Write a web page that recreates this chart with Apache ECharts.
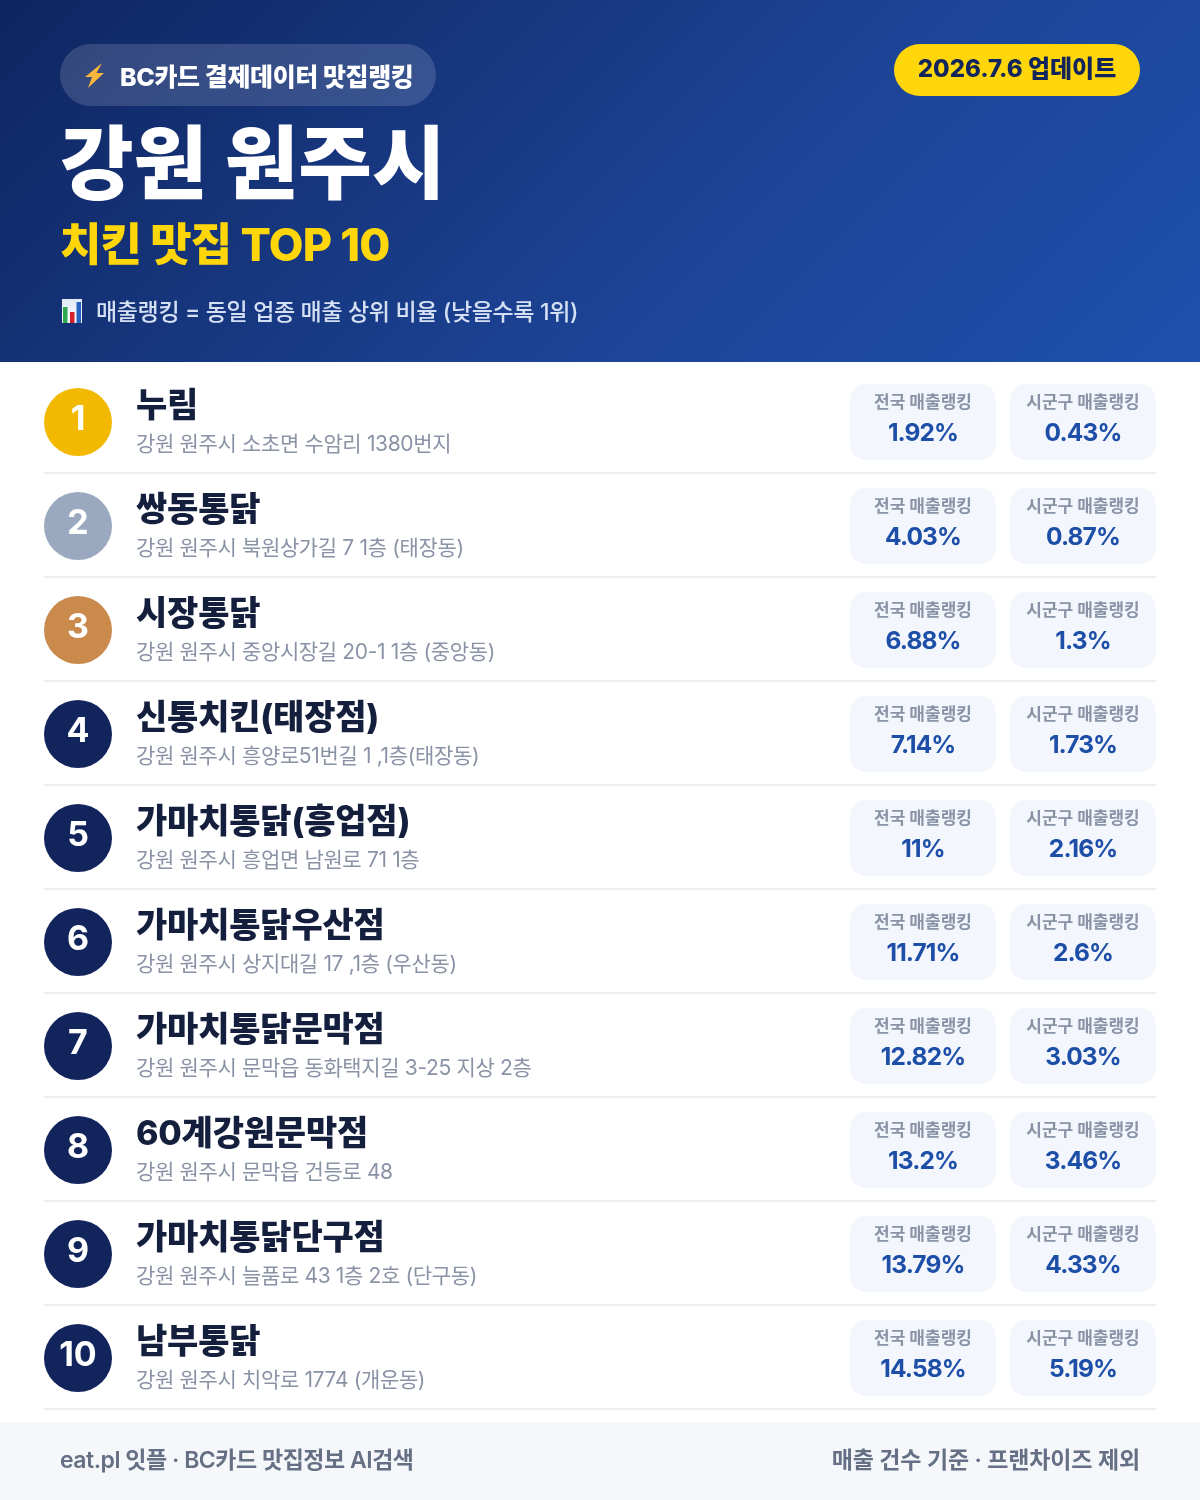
<!DOCTYPE html>
<html><head><meta charset="utf-8">
<style>html,body{margin:0;padding:0;background:#fff}#c{width:1200px;height:1500px}</style>
<script src="https://cdn.jsdelivr.net/npm/echarts@6/dist/echarts.min.js"></script>
</head><body><div id="c"></div>
<script>
const ranks = ['1','2','3','4','5','6','7','8','9','10'];
const names = ['누림','쌍동통닭','시장통닭','신통치킨(태장점)','가마치통닭(흥업점)','가마치통닭우산점','가마치통닭문막점','60계강원문막점','가마치통닭단구점','남부통닭'];
const addresses = ['강원 원주시 소초면 수암리 1380번지','강원 원주시 북원상가길 7 1층 (태장동)','강원 원주시 중앙시장길 20-1 1층 (중앙동)','강원 원주시 흥양로51번길 1 ,1층(태장동)','강원 원주시 흥업면 남원로 71 1층','강원 원주시 상지대길 17 ,1층 (우산동)','강원 원주시 문막읍 동화택지길 3-25 지상 2층','강원 원주시 문막읍 건등로 48','강원 원주시 늘품로 43 1층 2호 (단구동)','강원 원주시 치악로 1774 (개운동)'];
const nationalPct = [1.92,4.03,6.88,7.14,11,11.71,12.82,13.2,13.79,14.58];
const localPct = [0.43,0.87,1.3,1.73,2.16,2.6,3.03,3.46,4.33,5.19];
const nationalLabel = '전국 매출랭킹';
const localLabel = '시군구 매출랭킹';
const badgeText = 'BC카드 결제데이터 맛집랭킹';
const updateText = '2026.7.6 업데이트';
const titleText = '강원 원주시';
const subtitleText = '치킨 맛집 TOP 10';
const noteText = '매출랭킹 = 동일 업종 매출 상위 비율 (낮을수록 1위)';
const footerLeft = 'eat.pl 잇플 · BC카드 맛집정보 AI검색';
const footerRight = '매출 건수 기준 · 프랜차이즈 제외';
const FF = 'Inter,"Noto Sans CJK KR",sans-serif';
const circleColors = ['#f2b900','#9aa8c0','#c98a4b'];
const NAVY = '#12245c';

// ECharts has no letter-spacing option: tracking per font size, applied whenever a canvas font is set.
const tracking = {'21':-0.35,'34':-0.2,'45':-0.8,'25':-0.38,'24.5':-0.9,'23':-0.35,'23.01':-0.48,'23.02':-0.17};
(function(){
  const proto = CanvasRenderingContext2D.prototype;
  const d = Object.getOwnPropertyDescriptor(proto,'font');
  Object.defineProperty(proto,'font',{configurable:true,get(){return d.get.call(this);},set(v){
    d.set.call(this,v);
    const m = /([\d.]+)px/.exec(v);
    this.letterSpacing = ((m && tracking[m[1]]) || 0)+'px';
  }});
})();

function txt(x,y,text,size,weight,fill,align){
  return {type:'text',style:{x,y,text,fontSize:size,fontWeight:weight,fontFamily:FF,fill,align:align||'left',verticalAlign:'middle'}};
}
function pill(cx,cy,label,val){
  return [
    {type:'rect',shape:{x:cx-73,y:cy-38,width:146,height:76,r:16},style:{fill:'#f3f6fc'}},
    txt(cx,cy-19,label,17,700,'#8a93a6','center'),
    txt(cx,cy+12,val+'%',24.5,700,'#1e4fa8','center')
  ];
}
function renderRow(params,api){
  const i = api.value(1);
  const cy = api.coord([0,i])[1];
  return {type:'group',children:[
    {type:'circle',shape:{cx:78,cy:cy-0,r:34},style:{fill:circleColors[i]||NAVY}},
    txt(78,cy-2,ranks[i],34.01,700,'#fff','center'),
    txt(136,cy-15,names[i],34,800,'#141f3d'),
    txt(136,cy+23,addresses[i],21,400,'#8a93a6'),
    ...pill(923,cy,nationalLabel,nationalPct[i]),
    ...pill(1083,cy,localLabel,localPct[i]),
    {type:'rect',shape:{x:44,y:cy+50,width:1112,height:2},style:{fill:'#eceef2'}}
  ]};
}
const chart = echarts.init(document.getElementById('c'),null,{width:1200,height:1500,renderer:'canvas'});
chart.setOption({
  animation:false,
  backgroundColor:'#fff',
  grid:{left:0,top:370,width:1200,height:1040,containLabel:false},
  xAxis:{type:'value',min:0,max:1200,show:false},
  yAxis:{type:'category',inverse:true,data:ranks.map((r,i)=>i),show:false},
  series:[{type:'custom',coordinateSystem:'cartesian2d',renderItem:renderRow,encode:{x:0,y:1},clip:false,
    data:ranks.map((r,i)=>[nationalPct[i],i])}],
  graphic:{elements:[
    {type:'rect',z:-1,shape:{x:0,y:0,width:1200,height:362},style:{fill:new echarts.graphic.LinearGradient(210,-209,990,571,[{offset:0,color:'#0f2560'},{offset:0.6,color:'#1c4496'},{offset:1,color:'#1e50ac'}],true)}},
    {type:'rect',shape:{x:60,y:44,width:376,height:62,r:31},style:{fill:'rgba(255,255,255,0.15)'}},
    {type:'polygon',shape:{points:[[102,63],[85,77],[92,77],[88,88],[104,73],[96.5,73]]},style:{fill:'#f6b73c'}},
    txt(120,78,badgeText,25,800,'#fff'),
    {type:'rect',shape:{x:894,y:44,width:246,height:52,r:26},style:{fill:'#ffd60a'}},
    txt(1017,70,updateText,24,800,NAVY,'center'),
    txt(60,168,titleText,80,800,'#fff'),
    txt(60,247,subtitleText,45,800,'#ffd60a'),
    {type:'rect',shape:{x:62,y:299,width:20,height:24},style:{fill:new echarts.graphic.LinearGradient(0,0,0,1,[{offset:0,color:'#dfe8f5'},{offset:1,color:'#ffffff'}])}},
    {type:'rect',shape:{x:63,y:307,width:4.5,height:16},style:{fill:'#2fa84f'}},
    {type:'rect',shape:{x:70,y:312,width:4.5,height:11},style:{fill:'#d3202a'}},
    {type:'rect',shape:{x:76.5,y:302,width:4.5,height:21},style:{fill:'#2565c0'}},
    txt(96,313,noteText,23,500,'#d5e0f5'),
    {type:'rect',shape:{x:0,y:1422,width:1200,height:78},style:{fill:'#f5f7fb'}},
    txt(60,1461,footerLeft,23.01,600,'#667085'),
    txt(1140,1461,footerRight,23.02,600,'#667085','right')
  ]}
});
</script></body></html>
